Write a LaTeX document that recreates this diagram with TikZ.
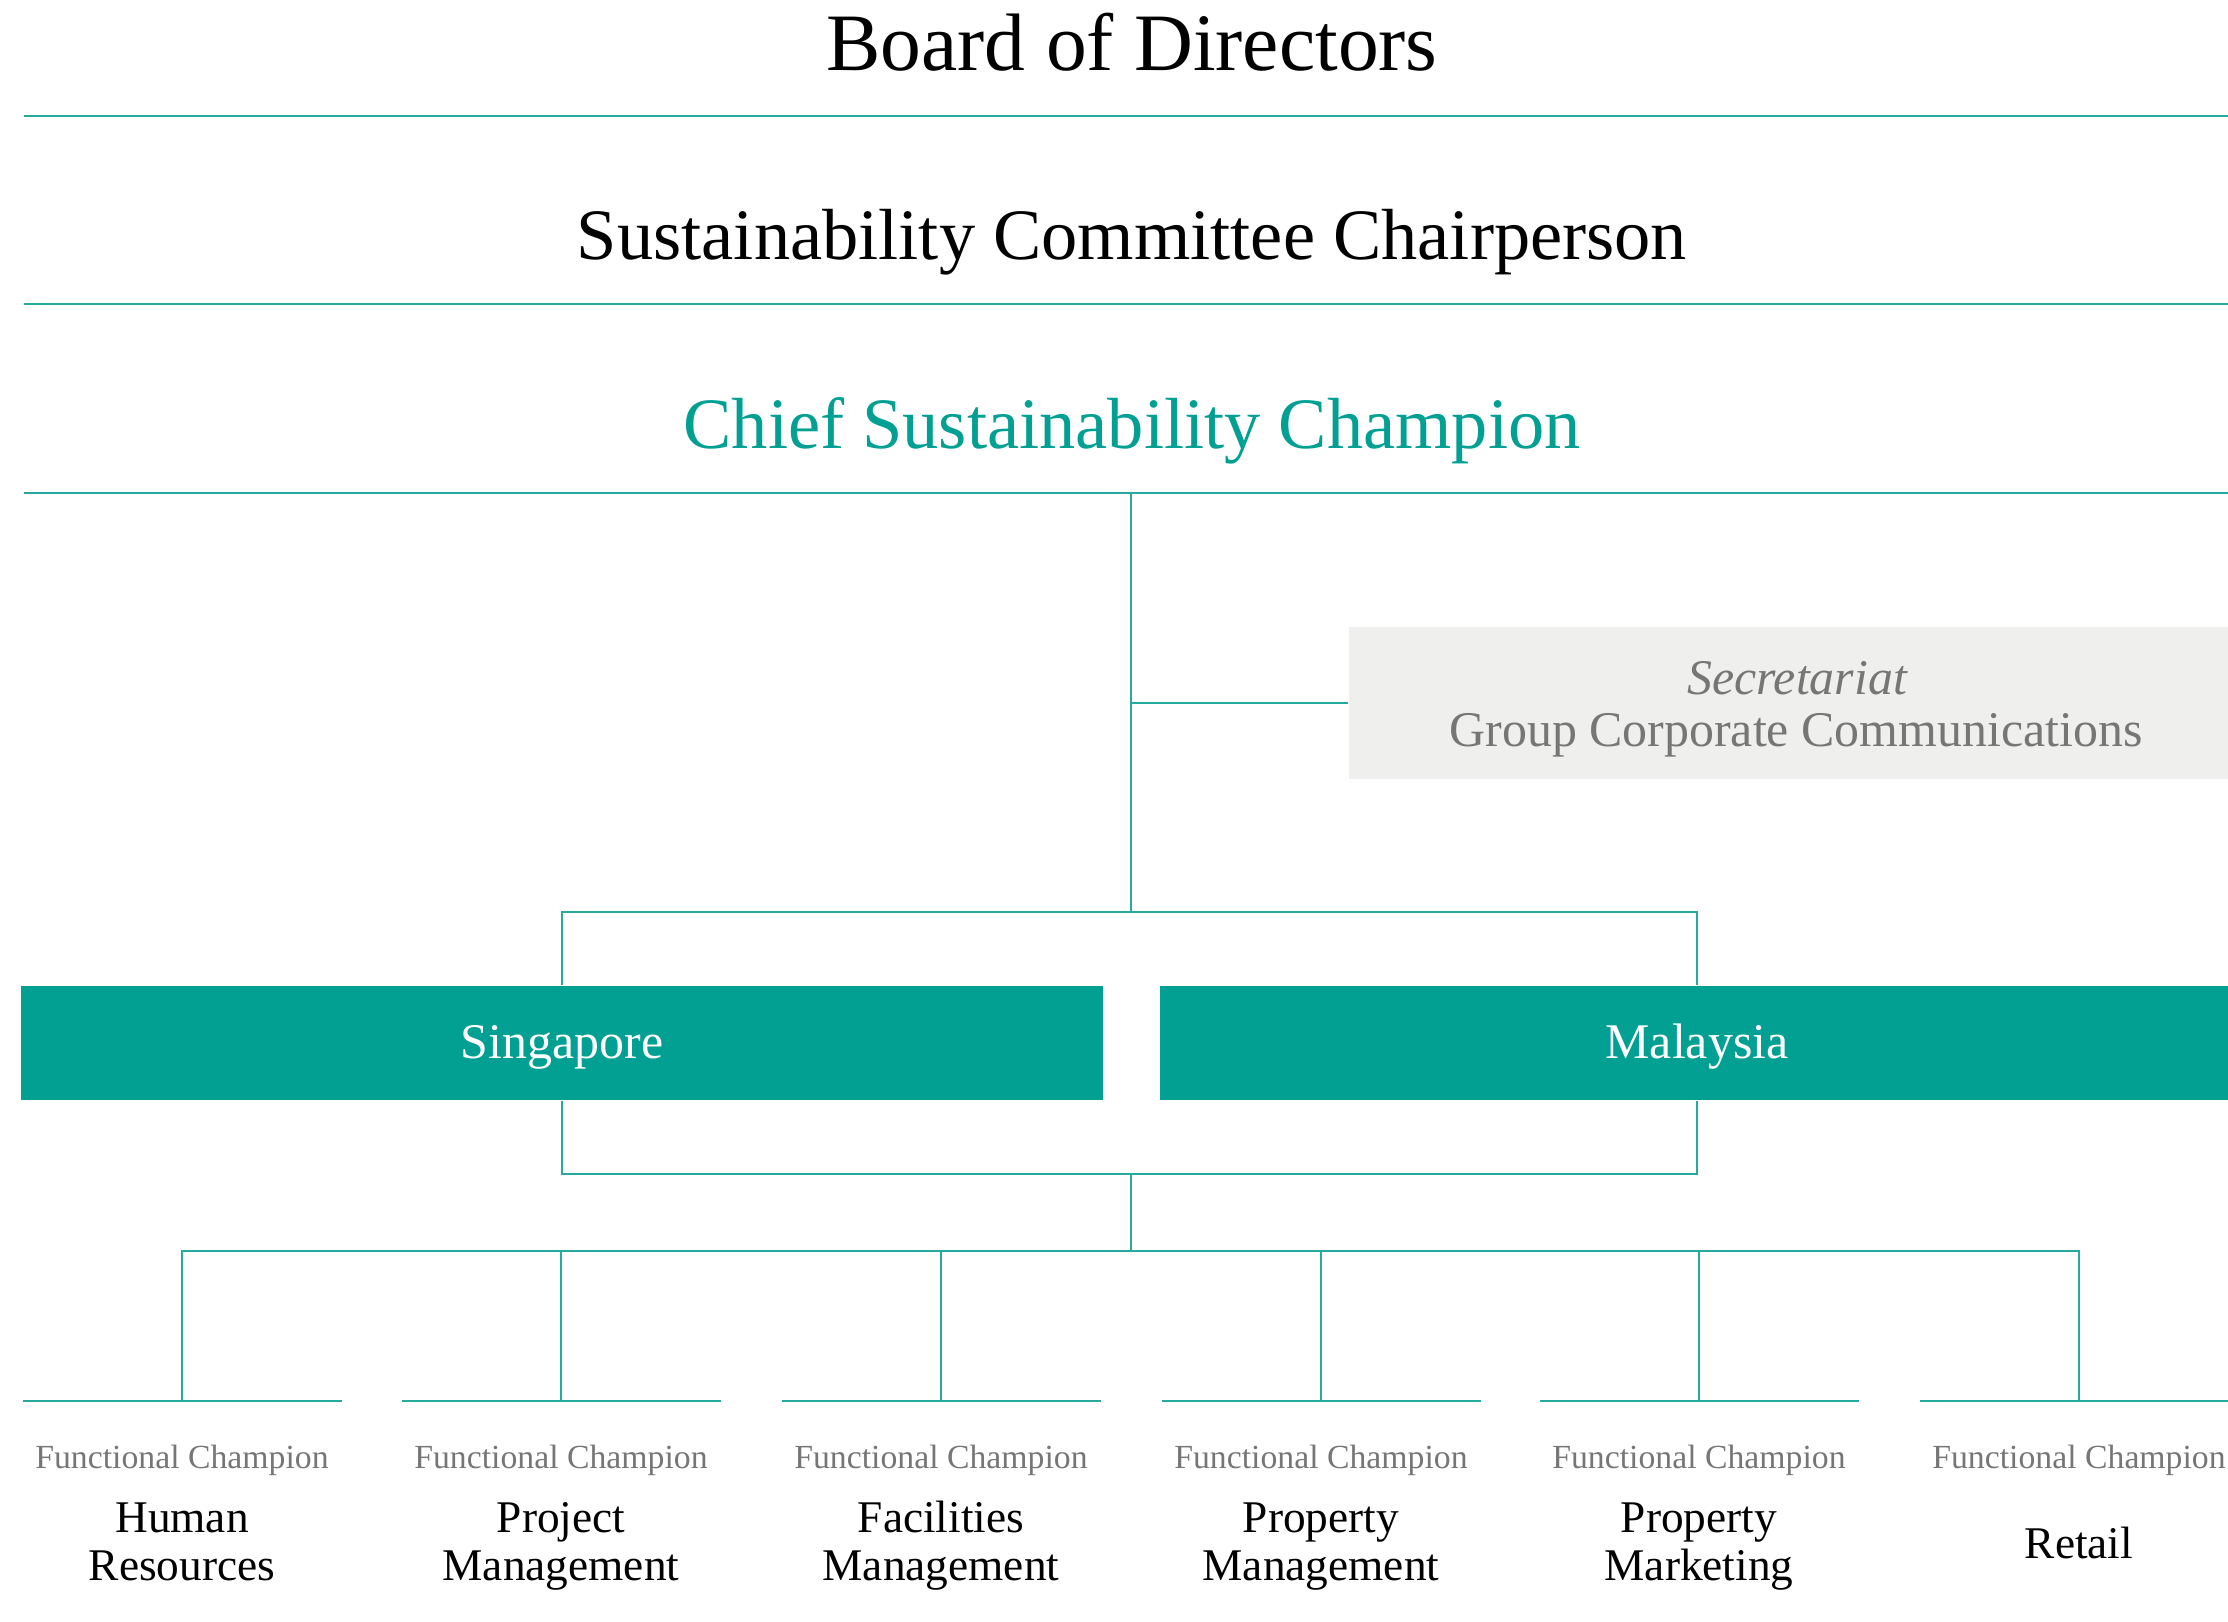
\documentclass[tikz,border=0pt]{standalone}
\usepackage{fontspec}
\setmainfont{Liberation Serif}
\definecolor{teal}{RGB}{2,160,147}
\definecolor{rule}{RGB}{38,170,158}
\definecolor{greytext}{RGB}{118,118,118}
\definecolor{panel}{RGB}{239,239,237}
\tikzset{
  sep/.style={draw=rule, line width=0.55pt},
  link/.style={draw=rule, line width=0.35pt},
  title/.style={anchor=base, inner sep=0pt, font=\fontsize{23.2}{26}\selectfont},
  level/.style={anchor=base, inner sep=0pt, font=\fontsize{20.6}{24}\selectfont},
  country/.style={fill=teal, text=white, inner sep=0pt, minimum height=1.14cm,
    text height=0.4cm, text depth=0.1cm, font=\fontsize{14.2}{16}\selectfont},
  fclabel/.style={anchor=base, inner sep=0pt, text=greytext, font=\fontsize{9.6}{11}\selectfont},
  fcname/.style={anchor=base, inner sep=0pt, align=center, font=\fontsize{12.9}{13.66}\selectfont},
}
\begin{document}
\begin{tikzpicture}
\useasboundingbox (0,0) rectangle (22.28,-16.21);

% headline levels with their rules
\node[title] (board) at (11.32,-0.706) {Board of Directors};
\draw[sep] (0.24,-1.16) -- (22.28,-1.16);
\node[level] (chair) at (11.32,-2.59) {Sustainability Committee Chairperson};
\draw[sep] (0.24,-3.04) -- (22.28,-3.04);
\node[level, text=teal] (chief) at (11.32,-4.48) {Chief Sustainability Champion};
\draw[sep] (0.24,-4.93) -- (22.28,-4.93);

% secretariat panel
\node[fill=panel, inner sep=0pt, minimum width=8.79cm, minimum height=1.52cm]
  (sec) at (17.885,-7.03) {};
\node[anchor=base, inner sep=0pt, text=greytext, font=\fontsize{14.2}{16}\selectfont\itshape]
  (sectitle) at (17.97,-6.94) {Secretariat};
\node[anchor=base, inner sep=0pt, text=greytext, font=\fontsize{14.2}{16}\selectfont]
  (secname) at (17.96,-7.46) {Group Corporate Communications};

% country boxes
\node[country, minimum width=10.82cm] (sg) at (5.62,-10.43) {Singapore};
\node[country, minimum width=10.74cm] (my) at (16.97,-10.43) {Malaysia};

% spine
\coordinate (cs) at (11.31,-4.93);
\coordinate (hub1) at (11.31,-9.12);
\coordinate (hub2) at (11.31,-11.74);
\coordinate (hub3) at (11.31,-12.51);

\draw[link] (cs) -- (hub1);
\draw[link] (sec.west) -- (sec.west -| cs);
\draw[link] (sg.north) |- (hub1) -| (my.north);
\draw[link] (sg.south) |- (hub2) -| (my.south);
\draw[link] (hub2) -- (hub3);

% functional champions
\foreach \i/\x/\nm in {1/1.82/{Human\\Resources},
                       2/5.61/{Project\\Management},
                       3/9.41/{Facilities\\Management},
                       4/13.21/{Property\\Management},
                       5/16.99/{Property\\Marketing}} {
  \coordinate (c\i) at (\x,-14.01);
  \draw[link] (hub3) -| (c\i);
  \draw[sep] ([xshift=-1.59cm]c\i) -- ([xshift=1.6cm]c\i);
  \node[fclabel] (fc\i) at (\x,-14.68) {Functional Champion};
  \node[fcname] (fn\i) at (\x,-15.80) {\nm};
}
\coordinate (c6) at (20.79,-14.01);
\draw[link] (hub3) -| (c6);
\draw[sep] ([xshift=-1.59cm]c6) -- (22.28,-14.01);
\node[fclabel] (fc6) at (20.79,-14.68) {Functional Champion};
\node[fcname] (fn6) at (20.79,-15.58) {Retail};
\end{tikzpicture}
\end{document}
